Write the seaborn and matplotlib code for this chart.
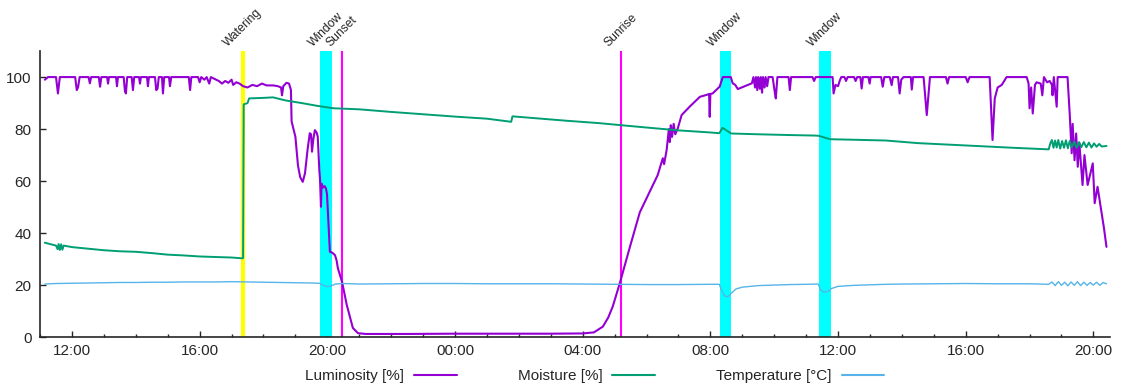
import pandas as pd
import numpy as np
import seaborn as sns
import matplotlib.pyplot as plt
import matplotlib.dates as mdates
import matplotlib.transforms as mtransforms
from matplotlib.lines import Line2D

# hours counted from midnight of the first day
lum_h = [11.15, 11.25, 11.50, 11.56, 11.62, 12.10, 12.15, 12.19, 12.24, 12.52, 12.56, 12.60,
         12.84, 12.88, 12.92, 13.10, 13.13, 13.16, 13.38, 13.41, 13.44, 13.62, 13.66, 13.69,
         13.73, 13.87, 13.91, 13.95, 14.10, 14.13, 14.16, 14.35, 14.38, 14.41, 14.60, 14.64,
         14.68, 14.72, 14.82, 14.85, 14.89, 15.04, 15.07, 15.11, 15.66, 15.70, 15.74, 15.95,
         16.00, 16.05, 16.15, 16.22, 16.30, 16.35, 16.60, 16.70, 16.80, 16.90, 17.00, 17.05,
         17.15, 17.25, 17.36, 17.50, 17.65, 17.80, 17.95, 18.10, 18.30, 18.45, 18.55, 18.58,
         18.62, 18.72, 18.80, 18.86, 18.88, 19.00, 19.08, 19.15, 19.23, 19.30, 19.38, 19.45,
         19.49, 19.52, 19.56, 19.61, 19.67, 19.70, 19.75, 19.77, 19.80, 19.82, 19.86, 19.90,
         19.92, 19.96, 19.99, 20.05, 20.08, 20.15, 20.24, 20.29, 20.33, 20.46, 20.61, 20.80,
         20.96, 21.20, 22.50, 24.00, 25.50, 27.00, 28.00, 28.35, 28.63, 28.80, 28.94, 29.16,
         29.48, 29.79, 30.10, 30.35, 30.51, 30.55, 30.63, 30.70, 30.73, 30.76, 30.80, 30.85,
         30.90, 30.98, 31.10, 31.35, 31.67, 31.92, 31.96, 31.98, 32.00, 32.07, 32.29, 32.39,
         32.64, 32.70, 32.78, 32.86, 33.30, 33.35, 33.40, 33.43, 33.47, 33.50, 33.55, 33.58,
         33.62, 33.65, 33.70, 33.73, 33.78, 33.82, 33.95, 34.02, 34.05, 34.10, 34.45, 34.49,
         34.53, 35.20, 35.25, 35.30, 35.83, 35.86, 35.92, 36.00, 36.05, 36.10, 36.20, 36.25,
         36.30, 36.50, 36.55, 36.60, 36.70, 36.74, 36.78, 36.95, 36.99, 37.02, 37.35, 37.40,
         37.45, 37.62, 37.68, 37.72, 37.88, 37.93, 37.98, 38.05, 38.28, 38.31, 38.35, 38.68,
         38.78, 38.88, 39.38, 39.43, 39.48, 40.00, 40.06, 40.12, 40.75, 40.84, 40.91, 41.00,
         41.13, 41.28, 41.91, 41.97, 42.00, 42.05, 42.10, 42.17, 42.22, 42.35, 42.40, 42.45,
         42.55, 42.63, 42.70, 42.72, 42.76, 42.85, 42.88, 43.19, 43.26, 43.32, 43.35, 43.41,
         43.46, 43.51, 43.56, 43.66, 43.72, 43.82, 43.98, 44.04, 44.13, 44.26, 44.33, 44.41]
lum_v = [99, 100, 100, 93.7, 100, 100, 95, 96, 100, 100, 97.6, 100,
         100, 96.3, 100, 100, 97.5, 100, 100, 96.5, 100, 100, 94.5, 93.7,
         100, 100, 95, 100, 100, 97.5, 100, 100, 96.5, 100, 100, 95,
         95.5, 100, 100, 93.7, 100, 100, 96.5, 100, 100, 95, 100, 100,
         98, 100, 99, 100, 97.5, 100, 98.5, 97.5, 98.5, 97.8, 99, 97,
         98, 97.5, 96.5, 96, 97, 96.5, 97.5, 96.8, 96.8, 96.5, 96, 93,
         96.5, 97.8, 97.5, 95, 83, 77, 66, 61.5, 59.7, 63, 72, 78.4,
         78, 71.3, 76, 79.6, 78.5, 77, 64, 61, 50.1, 59, 57.5, 58,
         58, 57, 55, 40, 32.8, 32.5, 31.5, 29.5, 26.5, 21.3, 12.3, 3.5,
         1.5, 1.2, 1.2, 1.3, 1.3, 1.3, 1.4, 1.8, 4, 7.5, 11.7, 20.6,
         34.7, 48, 55.9, 62.3, 68.8, 66.5, 71.9, 80, 75, 81.5, 77, 82,
         78, 80.3, 85.4, 88.6, 92.4, 93.3, 93.5, 84.7, 93.5, 93.7, 96.3, 100,
         100, 97.6, 97, 95.4, 97.6, 100, 96, 100, 95, 100, 95.5, 100,
         94, 100, 96, 100, 96.5, 100, 100, 94, 91.8, 100, 100, 95,
         100, 100, 98.5, 100, 100, 93.7, 97, 96.5, 98.5, 100, 100, 98.5,
         100, 100, 98.5, 100, 100, 95.6, 100, 100, 97.5, 100, 100, 96.3,
         100, 100, 96.9, 100, 100, 93.7, 99, 100, 100, 95.2, 100, 100,
         85.4, 100, 100, 97.5, 100, 100, 98, 100, 100, 75.8, 91.8, 96,
         97, 100, 100, 97.5, 88, 96, 86, 97, 98, 97.5, 93, 100,
         98, 98.5, 97, 93, 100, 88.6, 100, 100, 85.4, 70.7, 82, 68,
         78.3, 65.5, 74.6, 58.5, 70, 58.5, 66.8, 51.5, 57.8, 47.6, 42, 34.7]

moist_h = [11.15, 11.40, 11.50, 11.55, 11.58, 11.62, 11.66, 11.70, 11.74, 12.0, 12.5, 13.0,
           13.5, 14.0, 14.5, 15.0, 15.5, 16.0, 16.5, 17.0, 17.33, 17.36, 17.38, 17.50,
           17.55, 18.0, 18.3, 18.7, 19.2, 19.7, 20.2, 21.0, 22.0, 23.0, 24.0, 25.0,
           25.76, 25.80, 26.5, 27.5, 28.5, 29.2, 30.0, 31.0, 32.0, 32.28, 32.38, 32.65,
           33.5, 34.5, 35.3, 35.40, 35.75, 36.5, 37.5, 38.5, 39.5, 40.5, 41.5, 42.60,
           42.65, 42.70, 42.75, 42.80, 42.85, 42.90, 42.96, 43.02, 43.08, 43.14, 43.20, 43.26,
           43.32, 43.40, 43.47, 43.55, 43.62, 43.70, 43.78, 43.86, 43.94, 44.02, 44.10, 44.18,
           44.26, 44.41]
moist_v = [36.3, 35.5, 35.2, 33.8, 35.8, 33.5, 35.7, 33.6, 35.2, 34.6, 34.0, 33.4,
           33.0, 32.8, 32.3, 31.7, 31.4, 31.0, 30.8, 30.6, 30.3, 30.4, 89.5, 90.0,
           91.8, 92.0, 92.2, 91.0, 90.0, 88.9, 88.0, 87.6, 86.6, 85.7, 84.8, 84.0,
           82.8, 84.9, 84.2, 83.2, 82.3, 81.5, 80.6, 79.5, 78.7, 78.4, 80.5, 78.3,
           78.0, 77.7, 77.5, 77.4, 76.1, 75.9, 75.6, 74.6, 74.0, 73.4, 72.8, 72.2,
           74.5, 75.8, 72.8, 75.6, 72.9, 75.8, 72.5, 75.4, 72.8, 75.7, 72.6, 75.5,
           72.9, 75.2, 72.8, 75.0, 73.0, 75.0, 73.0, 74.8, 72.9, 74.5, 73.2, 74.3,
           73.3, 73.5]

temp_h = [11.15, 11.5, 12.0, 12.5, 13.0, 13.5, 14.0, 14.5, 15.0, 15.5, 16.0, 16.5,
          17.0, 17.5, 18.0, 18.5, 19.0, 19.5, 19.75, 19.9, 20.0, 20.1, 20.25, 20.5,
          21.0, 22.0, 23.0, 24.0, 25.0, 26.0, 27.0, 28.0, 29.0, 30.0, 31.0, 32.0,
          32.28, 32.35, 32.45, 32.55, 32.65, 32.8, 33.0, 33.5, 34.0, 34.5, 35.0, 35.38,
          35.45, 35.55, 35.70, 35.80, 36.0, 36.5, 37.0, 37.5, 38.0, 39.0, 40.0, 41.0,
          42.0, 42.6, 42.7, 42.8, 42.9, 43.0, 43.1, 43.2, 43.3, 43.4, 43.5, 43.6,
          43.7, 43.8, 43.9, 44.0, 44.1, 44.2, 44.3, 44.41]
temp_v = [20.4, 20.6, 20.7, 20.8, 20.9, 21.0, 21.0, 21.1, 21.1, 21.2, 21.2, 21.2,
          21.3, 21.2, 21.1, 21.0, 20.9, 20.8, 20.7, 19.8, 19.4, 19.6, 20.4, 20.6,
          20.4, 20.5, 20.6, 20.6, 20.5, 20.5, 20.5, 20.4, 20.3, 20.2, 20.2, 20.3,
          20.3, 18.0, 15.8, 15.5, 16.8, 18.5, 19.2, 19.8, 20.0, 20.2, 20.3, 20.4,
          18.2, 17.3, 17.6, 18.7, 19.5, 19.9, 20.1, 20.3, 20.4, 20.5, 20.6, 20.5,
          20.5, 20.3, 21.2, 19.8, 21.3, 19.9, 21.1, 19.7, 21.2, 19.9, 21.3, 19.8,
          21.1, 19.9, 21.0, 20.0, 21.1, 19.9, 21.0, 20.5]

series_names = ["Luminosity [%]", "Moisture [%]", "Temperature [°C]"]
series_colors = ["#9400d3", "#009e73", "#56b4e9"]

# events: (label, start, end) in hours; points have start == end
event_labels = ["Watering", "Window", "Sunset", "Sunrise", "Window", "Window"]
event_start = [17.36, 19.77, 20.46, 29.19, 32.29, 35.40]
event_end = [17.36, 20.14, 20.46, 29.19, 32.66, 35.77]
event_colors = ["#ffff00", "#00ffff", "#ff00ff", "#ff00ff", "#00ffff", "#00ffff"]

day0 = pd.Timestamp("2021-05-01")


def to_time(hours):
    return day0 + pd.to_timedelta(np.asarray(hours), unit="h")


frames = []
for name, h, v in zip(series_names, [lum_h, moist_h, temp_h], [lum_v, moist_v, temp_v]):
    frames.append(pd.DataFrame({"time": to_time(h), "value": v, "series": name}))
df = pd.concat(frames, ignore_index=True)

sns.set_style("ticks")
plt.rcParams['font.family'] = ['Liberation Sans', 'DejaVu Sans']

fig = plt.figure(figsize=(11.22, 3.87), dpi=100)
ax = fig.add_axes([0.0357, 0.129, 0.9536, 0.739])

# event markers behind the data
trans = mtransforms.blended_transform_factory(ax.transData, ax.transAxes)
for lab, s, e, c in zip(event_labels, event_start, event_end, event_colors):
    ts, te = to_time([s])[0], to_time([e])[0]
    if s == e:
        lw = 3 if lab == "Watering" else 1.5
        ax.axvline(ts, color=c, lw=lw, zorder=1)
    else:
        ax.axvspan(ts, te, color=c, lw=0, zorder=1)
    mid = ts + (te - ts) / 2
    ax.text(mid, 1.006, lab, transform=trans, rotation=45, ha="center", va="bottom",
            fontsize=8.7)

widths = [1.5, 1.4, 1.0]
for name, c, lw in zip(series_names, series_colors, widths):
    sns.lineplot(data=df[df["series"] == name], x="time", y="value", color=c, lw=lw,
                 ax=ax, zorder=3, legend=False)

ax.set_xlim(to_time([11.0])[0], to_time([44.52])[0])
ax.set_ylim(0, 110)
ax.set_yticks([0, 20, 40, 60, 80, 100])
ax.xaxis.set_major_locator(mdates.HourLocator(byhour=[0, 4, 8, 12, 16, 20]))
ax.xaxis.set_minor_locator(mdates.HourLocator())
ax.xaxis.set_major_formatter(mdates.DateFormatter("%H:%M"))
ax.set_xlabel("")
ax.set_ylabel("")
ax.tick_params(axis="both", which="major", direction="in", length=4, width=1,
               labelsize=11, pad=5)
ax.tick_params(axis="x", which="minor", direction="in", length=2.5, width=1)
ax.tick_params(axis="y", pad=6)
sns.despine(ax=ax)
for sp in ["left", "bottom"]:
    ax.spines[sp].set_linewidth(1.2)

handles = [Line2D([], [], color=c, lw=1.5) for c in series_colors]
fig.legend(handles, series_names, loc="lower center", bbox_to_anchor=(0.53, -0.025),
           ncol=3, frameon=False, markerfirst=False, handlelength=2.8,
           handletextpad=0.65, columnspacing=4.0, fontsize=11)

fig.savefig("out.png", dpi=100)
